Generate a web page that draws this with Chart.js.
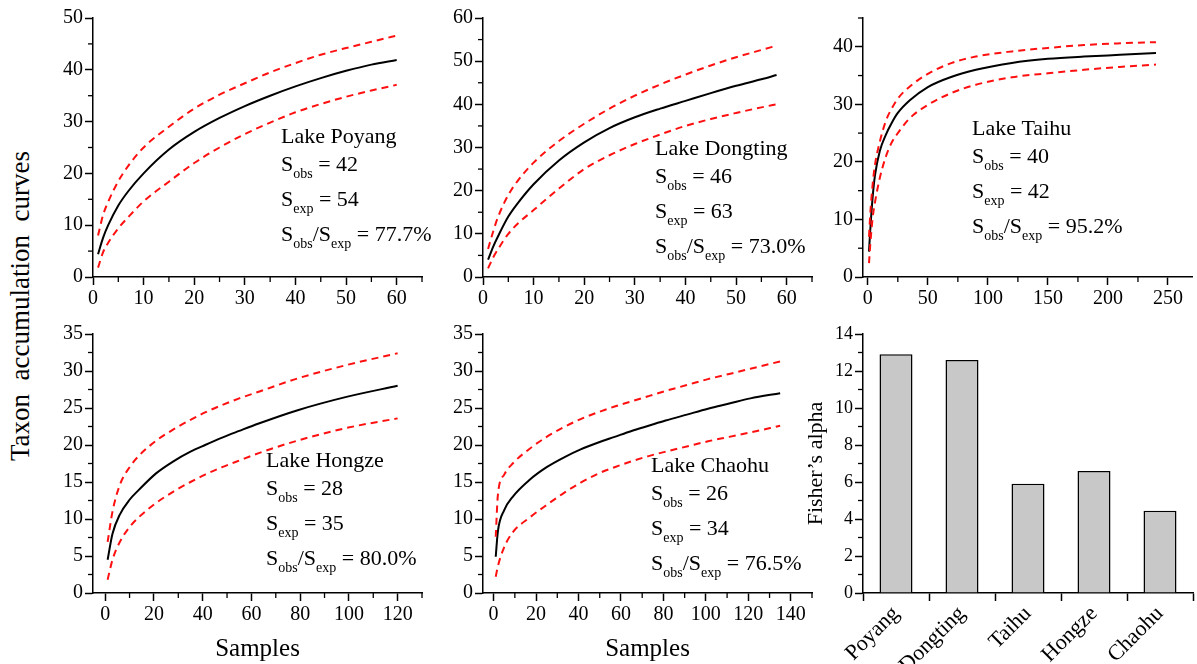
<!DOCTYPE html>
<html>
<head>
<meta charset="utf-8">
<style>
    body { margin: 0; background: #fff; width: 1197px; height: 664px; position: relative; overflow: hidden; font-family: "Liberation Serif", serif; }
    canvas { position: absolute; }
    #yTitle { position: absolute; left: 20px; top: 306px; transform: translate(-50%, -50%) rotate(-90deg); white-space: pre; font-size: 27px; color: #000; }
</style>
</head>
<body>
    <div id="yTitle">Taxon  accumulation  curves</div>
    <canvas id="poyang"></canvas>
    <canvas id="dongting"></canvas>
    <canvas id="taihu"></canvas>
    <canvas id="hongze"></canvas>
    <canvas id="chaohu"></canvas>
    <canvas id="fisher"></canvas>
    <script src="https://cdn.jsdelivr.net/npm/chart.js"></script>

    <script>
        // values
        const poyangSamples = [1, 2, 3, 5, 7, 10, 15, 20, 25, 30, 35, 40, 45, 50, 55, 60]
        const poyangMean = [4.4, 7.6, 10.0, 13.8, 16.6, 20.0, 24.6, 28.0, 30.7, 33.0, 35.0, 36.8, 38.4, 39.8, 41.0, 41.9]
        const poyangUpper = [8.0, 12.0, 14.5, 18.5, 21.5, 25.0, 29.0, 32.5, 35.2, 37.4, 39.5, 41.3, 42.9, 44.2, 45.4, 46.6]
        const poyangLower = [1.8, 4.8, 6.6, 9.4, 11.6, 14.6, 18.4, 22.0, 25.0, 27.6, 29.8, 31.8, 33.4, 34.8, 36.0, 37.1]

        const dongtingSamples = [1, 2, 3, 5, 7, 10, 15, 20, 25, 30, 35, 40, 45, 50, 55, 58]
        const dongtingMean = [4.0, 7.0, 9.5, 14.0, 17.3, 21.5, 27.0, 31.2, 34.5, 37.0, 39.0, 40.8, 42.6, 44.3, 45.8, 46.8]
        const dongtingUpper = [6.5, 10.5, 14.0, 19.0, 22.5, 26.5, 31.5, 35.5, 39.0, 42.0, 44.6, 46.9, 49.0, 50.9, 52.6, 53.6]
        const dongtingLower = [2.0, 4.5, 6.5, 10.0, 12.5, 15.5, 20.5, 25.0, 28.2, 30.8, 33.0, 35.0, 36.6, 38.0, 39.3, 40.0]

        const taihuSamples = [1, 2, 4, 6, 10, 15, 20, 25, 35, 50, 70, 90, 120, 150, 180, 210, 240]
        const taihuMean = [4.4, 8.0, 13.8, 17.7, 21.9, 24.7, 26.8, 28.5, 30.7, 33.0, 34.8, 36.0, 37.2, 37.9, 38.3, 38.6, 38.9]
        const taihuUpper = [7.0, 10.8, 16.0, 19.5, 23.5, 27.1, 29.3, 31.0, 33.1, 35.3, 37.2, 38.3, 39.2, 39.8, 40.3, 40.6, 40.8]
        const taihuLower = [2.4, 5.5, 10.2, 13.0, 17.2, 20.9, 23.4, 25.0, 27.6, 29.9, 32.0, 33.4, 34.7, 35.4, 36.0, 36.5, 36.9]

        const hongzeSamples = [1, 3, 6, 10, 14, 21, 28, 35, 41, 48, 55, 63, 79, 99, 120]
        const hongzeMean = [4.5, 8.0, 10.6, 12.6, 14.0, 16.2, 17.8, 19.1, 20.0, 21.0, 21.9, 22.9, 24.7, 26.5, 28.0]
        const hongzeUpper = [6.9, 11.0, 14.6, 17.0, 18.6, 20.6, 22.1, 23.4, 24.4, 25.4, 26.3, 27.2, 29.0, 30.8, 32.4]
        const hongzeLower = [1.8, 4.5, 6.9, 8.9, 10.3, 12.2, 13.7, 15.0, 16.0, 17.0, 17.9, 18.9, 20.6, 22.3, 23.6]

        const chaohuSamples = [1, 2, 5, 9, 17, 25, 33, 41, 49, 57, 65, 73, 81, 91, 101, 111, 121, 135]
        const chaohuMean = [4.9, 8.3, 11.2, 13.0, 15.3, 17.0, 18.3, 19.4, 20.3, 21.1, 21.9, 22.6, 23.3, 24.1, 24.9, 25.6, 26.3, 27.0]
        const chaohuUpper = [7.6, 13.2, 16.0, 17.5, 19.5, 21.1, 22.4, 23.5, 24.4, 25.2, 25.9, 26.6, 27.3, 28.1, 28.9, 29.6, 30.3, 31.3]
        const chaohuLower = [2.2, 3.6, 6.2, 8.2, 10.2, 11.9, 13.5, 14.9, 16.1, 17.0, 17.8, 18.5, 19.1, 19.8, 20.5, 21.1, 21.7, 22.6]

        const lakeNames = ['Poyang', 'Dongting', 'Taihu', 'Hongze', 'Chaohu']
        const sObs = [42, 46, 40, 28, 26]
        const sExp = [54, 63, 42, 35, 34]
        const obsExpRatio = ['77.7%', '73.0%', '95.2%', '80.0%', '76.5%']
        const fisherAlpha = [12.9, 12.6, 5.9, 6.6, 4.45]

        const FONT = '"Liberation Serif", "Times New Roman", serif'
        Chart.defaults.font.family = FONT
        Chart.defaults.color = '#000'
        Chart.defaults.animation = false

        function isMultiple(v, step) {
            return Math.abs(v / step - Math.round(v / step)) < 1e-6
        }

        // short ticks between the labelled ones
        const minorTicks = {
            id: 'minorTicks',
            afterDraw(chart) {
                const ctx = chart.ctx
                ctx.save()
                ctx.strokeStyle = '#000'
                ctx.lineWidth = 1.3
                Object.values(chart.scales).forEach((scale) => {
                    const major = scale.options.majorStep
                    if (!major) return
                    scale.ticks.forEach((t) => {
                        if (isMultiple(t.value, major)) return
                        const p = scale.getPixelForValue(t.value)
                        ctx.beginPath()
                        if (scale.isHorizontal()) {
                            ctx.moveTo(p, scale.top)
                            ctx.lineTo(p, scale.top + 5)
                        } else {
                            ctx.moveTo(scale.right, p)
                            ctx.lineTo(scale.right - 5, p)
                        }
                        ctx.stroke()
                    })
                })
                ctx.restore()
            }
        }

        // "Lake X / Sobs / Sexp / ratio" block inside each panel
        const noteText = {
            id: 'noteText',
            afterDraw(chart) {
                const note = chart.config.options.note
                if (!note) return
                const ctx = chart.ctx
                const a = chart.chartArea
                const lines = [
                    [['Lake ' + note.name]],
                    [['S'], ['obs', 1], [' = ' + note.obs]],
                    [['S'], ['exp', 1], [' = ' + note.exp]],
                    [['S'], ['obs', 1], ['/S'], ['exp', 1], [' = ' + note.ratio]]
                ]
                const offsets = [0, 28, 63, 98]
                ctx.save()
                ctx.fillStyle = '#000'
                ctx.textBaseline = 'alphabetic'
                lines.forEach((parts, i) => {
                    let x = a.left + note.dx
                    const y = a.top + note.dy + offsets[i]
                    parts.forEach(([t, sub]) => {
                        ctx.font = (sub ? '14px ' : '22px ') + FONT
                        ctx.fillText(t, x, y + (sub ? 7 : 0))
                        x += ctx.measureText(t).width
                    })
                })
                ctx.restore()
            }
        }

        function place(id, plot, yWidth, xHeight, padRight) {
            const canvas = document.getElementById(id)
            canvas.width = yWidth + (plot.r - plot.l) + padRight
            canvas.height = 15 + (plot.b - plot.t) + xHeight
            canvas.style.left = (plot.l - yWidth) + 'px'
            canvas.style.top = (plot.t - 15) + 'px'
            return canvas
        }

        function linearAxis(min, max, minor, major, size, title) {
            return {
                type: 'linear',
                min: min,
                max: max,
                majorStep: major,
                border: { color: '#000', width: 1.5 },
                grid: {
                    drawOnChartArea: false, tickLength: 8, tickWidth: 1.5,
                    tickColor: (c) => (c.tick && isMultiple(c.tick.value, major)) ? '#000' : 'rgba(0,0,0,0)'
                },
                ticks: {
                    stepSize: minor,
                    includeBounds: false,
                    autoSkip: false,
                    maxRotation: 0,
                    padding: 2,
                    font: { size: 20 },
                    callback: (v) => isMultiple(v, major) ? v : ''
                },
                title: title ? { display: true, text: title, font: { size: 25 }, padding: { top: 0, bottom: 0 } } : { display: false },
                afterFit: (scale) => {
                    if (scale.isHorizontal()) scale.height = size
                    else scale.width = size
                }
            }
        }

        function curve(xs, ys) {
            return xs.map((x, i) => ({ x: x, y: ys[i] }))
        }

        function lakeChart(id, plot, padRight, xHeight, idx, xs, mean, upper, lower, xAxis, yAxis, note) {
            const canvas = place(id, plot, 60, xHeight, padRight)
            const dashed = { borderColor: '#ff1010', borderWidth: 2, borderDash: [7, 5] }
            return new Chart(canvas.getContext('2d'), {
                type: 'line',
                data: {
                    datasets: [
                        Object.assign({ label: 'upper', data: curve(xs, upper) }, dashed),
                        Object.assign({ label: 'lower', data: curve(xs, lower) }, dashed),
                        { label: 'mean', data: curve(xs, mean), borderColor: '#000', borderWidth: 2 }
                    ]
                },
                options: {
                    responsive: false,
                    layout: { padding: { top: 15, right: padRight, left: 0, bottom: 0 } },
                    elements: { point: { radius: 0 }, line: { cubicInterpolationMode: 'monotone' } },
                    plugins: { legend: { display: false }, tooltip: { enabled: false } },
                    scales: { x: xAxis, y: yAxis },
                    note: Object.assign({
                        name: lakeNames[idx], obs: sObs[idx], exp: sExp[idx], ratio: obsExpRatio[idx]
                    }, note)
                },
                plugins: [minorTicks, noteText]
            })
        }

        lakeChart('poyang', { l: 93, t: 18, r: 422, b: 277 }, 15, 35, 0,
            poyangSamples, poyangMean, poyangUpper, poyangLower,
            linearAxis(0, 65, 5, 10, 35), linearAxis(0, 50, 5, 10, 60), { dx: 188, dy: 125 })

        lakeChart('dongting', { l: 483, t: 18, r: 812, b: 277 }, 15, 35, 1,
            dongtingSamples, dongtingMean, dongtingUpper, dongtingLower,
            linearAxis(0, 65, 5, 10, 35), linearAxis(0, 60, 5, 10, 60), { dx: 172, dy: 137 })

        lakeChart('taihu', { l: 863, t: 18, r: 1192, b: 277 }, 5, 35, 2,
            taihuSamples, taihuMean, taihuUpper, taihuLower,
            linearAxis(-4, 270, 25, 50, 35), linearAxis(0, 45, 5, 10, 60), { dx: 109, dy: 117 })

        lakeChart('hongze', { l: 93, t: 334, r: 422, b: 593 }, 15, 71, 3,
            hongzeSamples, hongzeMean, hongzeUpper, hongzeLower,
            linearAxis(-5, 130, 10, 20, 71, 'Samples'), linearAxis(0, 35, 2.5, 5, 60), { dx: 173, dy: 133 })

        lakeChart('chaohu', { l: 483, t: 334, r: 812, b: 593 }, 15, 71, 4,
            chaohuSamples, chaohuMean, chaohuUpper, chaohuLower,
            linearAxis(-5, 150, 10, 20, 71, 'Samples'), linearAxis(0, 35, 2.5, 5, 60), { dx: 168, dy: 138 })

        // Fisher's alpha bars
        const fisherCanvas = place('fisher', { l: 863, t: 334, r: 1193, b: 593 }, 60, 71, 4)
        const fisherY = linearAxis(0, 14, 1, 2, 60)
        fisherY.ticks.font = { size: 18 }
        fisherY.title = { display: true, text: 'Fisher’s alpha', font: { size: 22 }, padding: { top: 0, bottom: 0 } }
        new Chart(fisherCanvas.getContext('2d'), {
            type: 'bar',
            data: {
                labels: lakeNames,
                datasets: [{
                    data: fisherAlpha,
                    backgroundColor: '#c8c8c8',
                    borderColor: '#000',
                    borderWidth: 1.5,
                    barPercentage: 0.5,
                    categoryPercentage: 1
                }]
            },
            options: {
                responsive: false,
                layout: { padding: { top: 15, right: 4, left: 0, bottom: 0 } },
                plugins: { legend: { display: false }, tooltip: { enabled: false } },
                scales: {
                    x: {
                        border: { color: '#000', width: 1.5 },
                        grid: { drawOnChartArea: false, tickLength: 8, tickWidth: 1.5, tickColor: '#000' },
                        ticks: { autoSkip: false, minRotation: 45, maxRotation: 45, padding: 0, font: { size: 22 } },
                        afterFit: (scale) => { scale.height = 71 }
                    },
                    y: fisherY
                }
            },
            plugins: [minorTicks]
        })
    </script>
</body>
</html>
